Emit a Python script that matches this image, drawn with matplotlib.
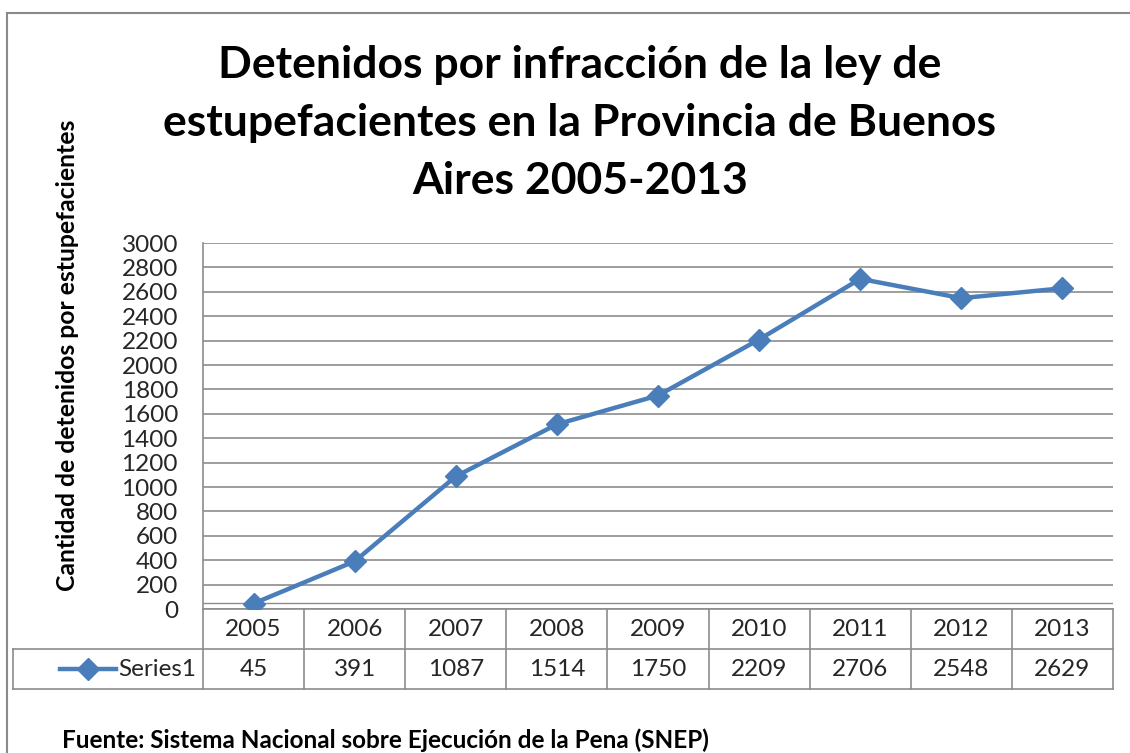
import matplotlib.pyplot as plt
import matplotlib.transforms as mtransforms
from matplotlib.lines import Line2D

plt.rcParams['font.family'] = ['Lato', 'DejaVu Sans']

years = ['2005', '2006', '2007', '2008', '2009', '2010', '2011', '2012', '2013']
detenidos = [45, 391, 1087, 1514, 1750, 2209, 2706, 2548, 2629]
yticks = list(range(0, 3001, 200))
series_name = 'Series1'

blue = '#4a7ebb'
grey = '#8c8c8c'
text_color = '#262626'

fig = plt.figure(figsize=(11.3, 7.53), dpi=100)
ax = fig.add_axes([203/1130, 1 - 609/753, 910/1130, 366/753])

x = list(range(len(years)))
ax.plot(x, detenidos, color=blue, lw=3.2, marker='D', ms=11, zorder=3)

ax.set_xlim(-0.5, len(years) - 0.5)
ax.set_ylim(0, 3000)
ax.set_yticks(yticks)
ax.set_xticks([])
ax.tick_params(axis='y', length=0, pad=18, labelsize=17.5, labelcolor=text_color)
ax.grid(axis='y', color=grey, lw=1.2)
ax.axhline(50, color=grey, lw=1.0, zorder=1)
for s in ['top', 'right', 'bottom']:
    ax.spines[s].set_visible(False)
ax.spines['left'].set_color(grey)
ax.spines['left'].set_linewidth(1.2)

# data table below the plot
tr = mtransforms.blended_transform_factory(ax.transData, ax.transAxes)
row_h = 40 / 366
legend_left = -0.5 - 190 / (910 / 9)
kw = dict(color=grey, lw=1.2, transform=tr, clip_on=False)
ax.add_line(Line2D([-0.5, len(years) - 0.5], [0, 0], **kw))
ax.add_line(Line2D([legend_left, len(years) - 0.5], [-row_h, -row_h], **kw))
ax.add_line(Line2D([legend_left, len(years) - 0.5], [-2 * row_h, -2 * row_h], **kw))
ax.add_line(Line2D([legend_left, legend_left], [-row_h, -2 * row_h], **kw))
for i in range(len(years) + 1):
    ax.add_line(Line2D([i - 0.5, i - 0.5], [0, -2 * row_h], **kw))
for i, (yr, v) in enumerate(zip(years, detenidos)):
    ax.text(i, -0.5 * row_h, yr, transform=tr, ha='center', va='center',
            fontsize=17.5, color=text_color)
    ax.text(i, -1.5 * row_h, str(v), transform=tr, ha='center', va='center',
            fontsize=17.5, color=text_color)

# legend key inside the table
lx0 = legend_left + 47 / (910 / 9)
lx1 = legend_left + 103 / (910 / 9)
ax.add_line(Line2D([lx0, lx1], [-1.5 * row_h] * 2, color=blue, lw=3.2,
                   transform=tr, clip_on=False))
ax.add_line(Line2D([(lx0 + lx1) / 2], [-1.5 * row_h], color=blue, marker='D',
                   ms=11, transform=tr, clip_on=False))
ax.text(lx1 + 0.02, -1.5 * row_h, series_name, transform=tr, ha='left',
        va='center', fontsize=17.5, color=text_color)

fig.text(0.513, 1 - 123 / 753,
         'Detenidos por infracción de la ley de\n'
         'estupefacientes en la Provincia de Buenos\n'
         'Aires 2005-2013',
         ha='center', va='center', fontsize=32, fontweight='bold',
         linespacing=1.55, color='black')

fig.text(68 / 1130, 1 - 355 / 753, 'Cantidad de detenidos por estupefacientes',
         rotation=90, ha='center', va='center', fontsize=17.8,
         fontweight='bold', color='black')

fig.text(62 / 1130, 1 - 740 / 753,
         'Fuente: Sistema Nacional sobre Ejecución de la Pena (SNEP)',
         ha='left', va='center', fontsize=17.5, fontweight='bold', color='black')

# outer chart border (left and top)
fig.add_artist(Line2D([7 / 1130, 7 / 1130], [0, 1 - 13 / 753], color='#8a8a8a',
                      lw=1.5, transform=fig.transFigure))
fig.add_artist(Line2D([7 / 1130, 1], [1 - 13 / 753, 1 - 13 / 753], color='#8a8a8a',
                      lw=1.5, transform=fig.transFigure))

fig.savefig('out.png', dpi=100)
